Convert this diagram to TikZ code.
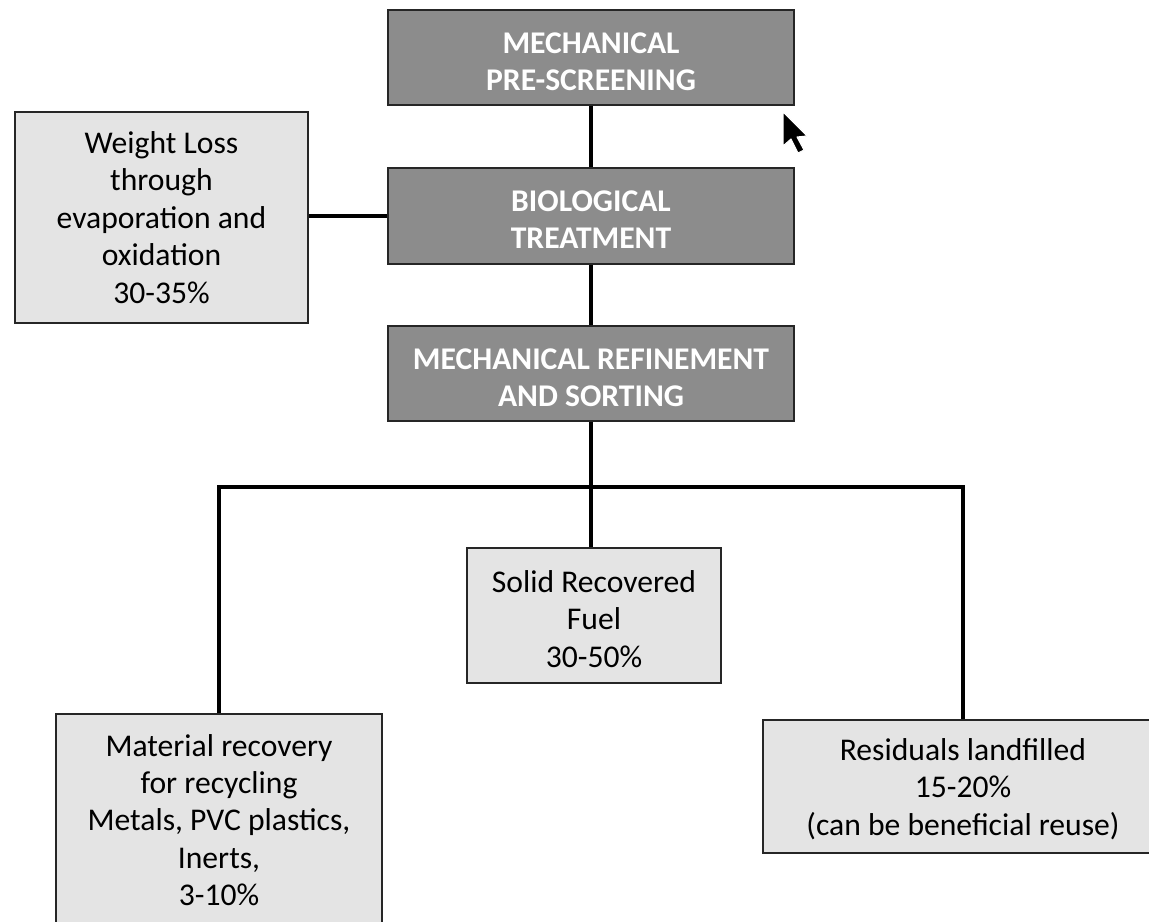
\documentclass[tikz,border=0pt]{standalone}
\usepackage{fontspec}
\setmainfont{Carlito}
\definecolor{darkfill}{HTML}{8C8C8C}
\definecolor{lightfill}{HTML}{E4E4E4}
\definecolor{edge}{HTML}{262626}
\begin{document}
\begin{tikzpicture}[x=0.02cm,y=-0.02cm,
  darkbox/.style={draw=edge,line width=1.1pt,fill=darkfill,inner sep=0pt},
  lightbox/.style={draw=edge,line width=1.1pt,fill=lightfill,inner sep=0pt},
  dtext/.style={text=white,font=\fontsize{18}{21}\selectfont\bfseries,align=center,inner sep=0pt,yshift=-0.08cm},
  ltext/.style={text=black,font=\fontsize{18}{21.3}\selectfont,align=center,inner sep=0pt},
  link/.style={line width=2.4pt,black}]
\useasboundingbox (0,0) rectangle (1149,922);
\clip (0,0) rectangle (1149,922);
\fill[white] (0,0) rectangle (1149,922);
\node[darkbox,minimum width=8.12cm,minimum height=1.9cm,
  label={[dtext]center:{MECHANICAL\\PRE-SCREENING}}] (top) at (591,57.5) {};
\node[darkbox,minimum width=8.12cm,minimum height=1.92cm,
  label={[dtext]center:{BIOLOGICAL\\TREATMENT}}] (bio) at (591,216) {};
\node[darkbox,minimum width=8.12cm,minimum height=1.9cm,
  label={[dtext]center:{MECHANICAL REFINEMENT\\AND SORTING}}] (ref) at (591,373.5) {};
\node[lightbox,minimum width=5.86cm,minimum height=4.22cm,
  label={[ltext]center:{Weight Loss\\through\\evaporation and\\oxidation\\30-35\%}}] (wl) at (161.5,217.5) {};
\node[lightbox,minimum width=5.08cm,minimum height=2.7cm,
  label={[ltext,yshift=-0.07cm]center:{Solid Recovered\\Fuel\\30-50\%}}] (srf) at (594,615.5) {};
\node[lightbox,minimum width=6.52cm,minimum height=4.24cm,
  label={[ltext]center:{Material recovery\\for recycling\\Metals, PVC plastics,\\Inerts,\\3-10\%}}] (mat) at (219,820) {};
\node[lightbox,minimum width=8cm,minimum height=2.66cm,
  label={[ltext,yshift=-0.05cm]center:{Residuals landfilled\\15-20\%\\(can be beneficial reuse)}}] (res) at (963,786.5) {};
\coordinate (bar) at (591,487);
\draw[link] (top.south) -- (bio.north);
\draw[link] (bio.west -| wl.east) -- (bio.west);
\draw[link] (bio.south) -- (ref.north);
\draw[link] (ref.south) -- (ref.south |- srf.north);
\draw[link,line join=miter] (mat.north) -- (mat.north |- bar) -- (res.north |- bar) -- (res.north);
% mouse cursor
\filldraw[fill=black,draw=white,line width=0.6pt,line join=round]
  (783,112) -- (783,146) -- (791,139) -- (798,153) -- (804,150) -- (797,137) -- (807,136) -- cycle;
\end{tikzpicture}
\end{document}
